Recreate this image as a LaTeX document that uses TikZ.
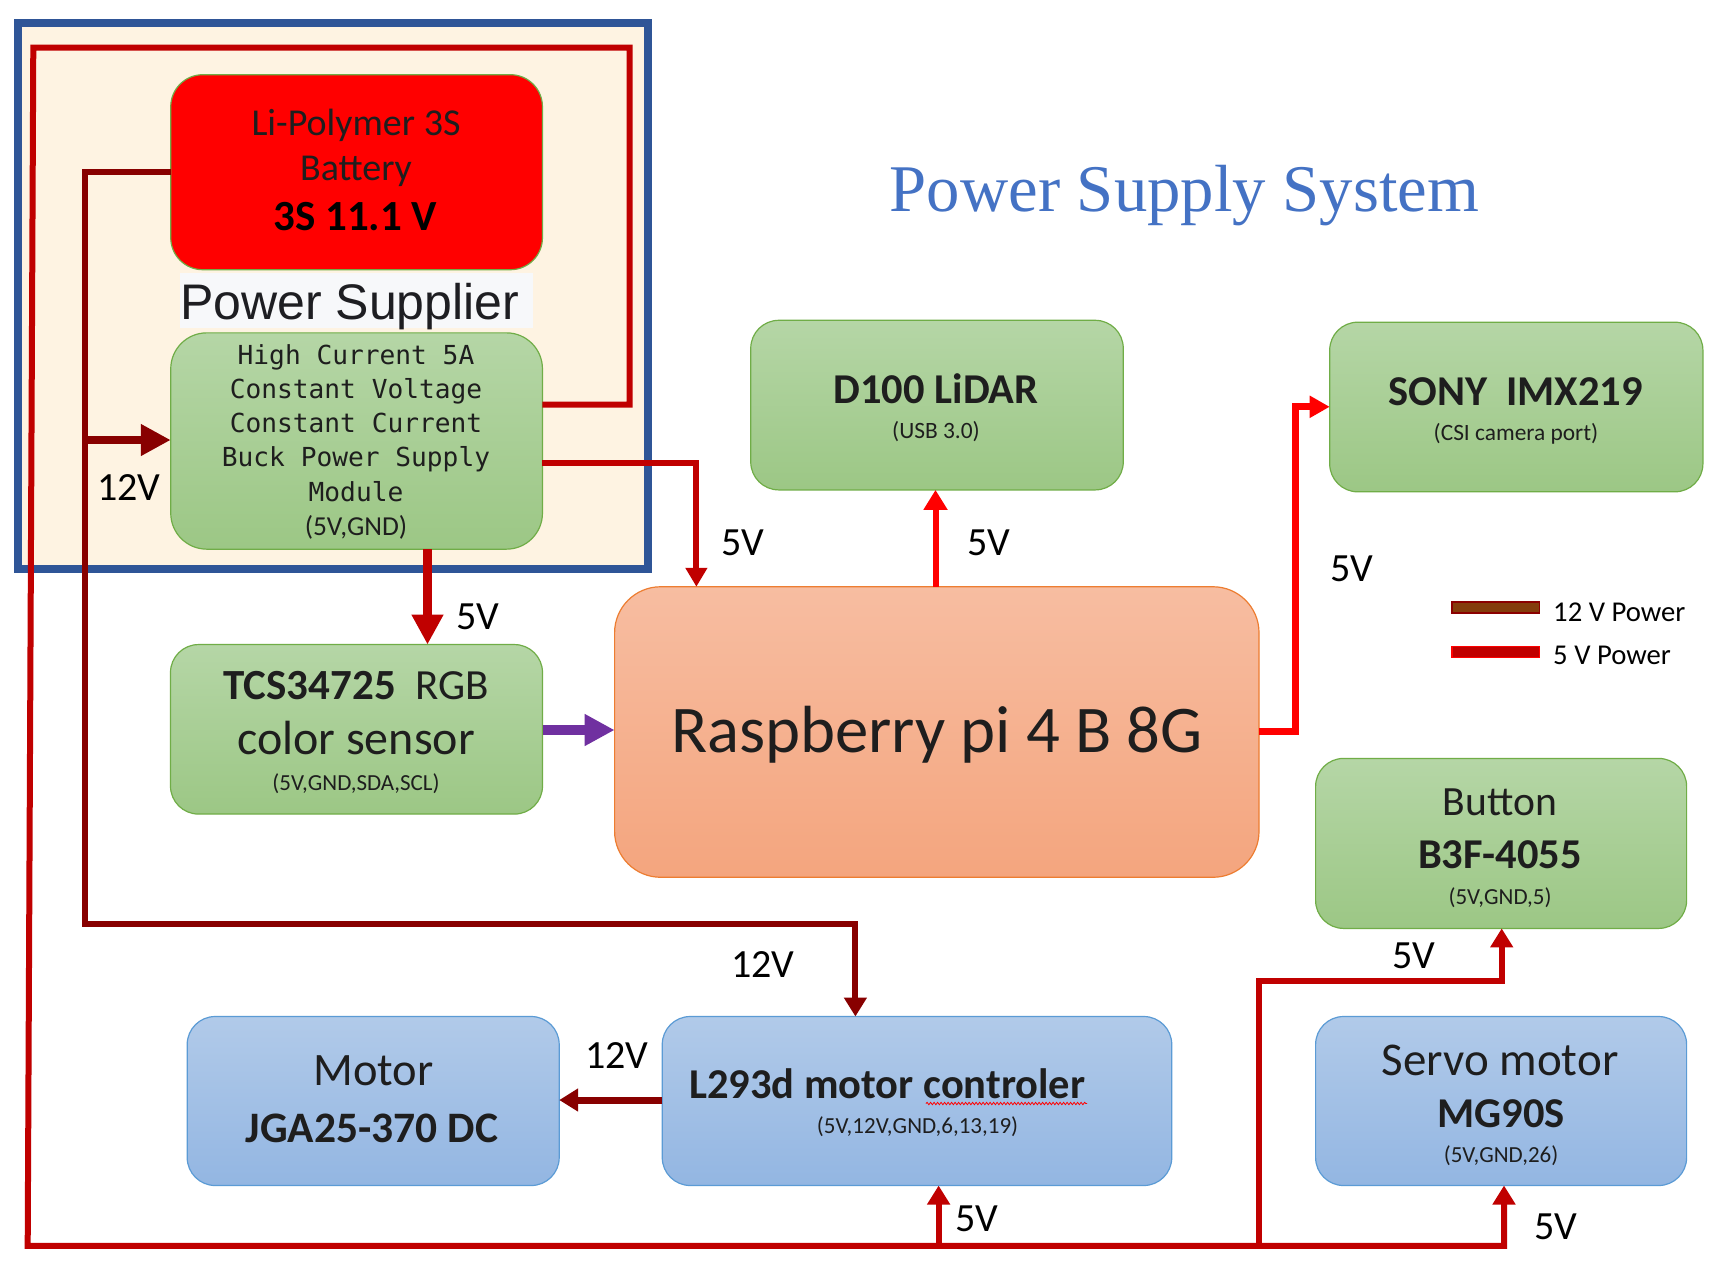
\documentclass[tikz,border=0pt]{standalone}
\usepackage{fontspec}
\setmainfont{Carlito}
\newfontfamily\monofnt{DejaVu Sans Mono}
\newfontfamily\arialfnt{Liberation Sans}
\newfontfamily\serifnt{Liberation Serif}
\usetikzlibrary{arrows.meta,decorations.pathmorphing}
\definecolor{cfive}{HTML}{C00000}
\definecolor{ctwelve}{HTML}{880000}
\definecolor{cbright}{HTML}{FF0000}
\definecolor{cpurple}{HTML}{7030A0}
\definecolor{frameblue}{HTML}{2F5597}
\definecolor{cream}{HTML}{FEF3E2}
\definecolor{gtop}{HTML}{B5D6A6}
\definecolor{gbot}{HTML}{9CC785}
\definecolor{gline}{HTML}{70AD47}
\definecolor{btop}{HTML}{B1CAE9}
\definecolor{bbot}{HTML}{93B6E2}
\definecolor{bline}{HTML}{5B9BD5}
\definecolor{otop}{HTML}{F7BDA1}
\definecolor{obot}{HTML}{F4A57E}
\definecolor{oline}{HTML}{ED7D31}
\definecolor{titleblue}{HTML}{4472C4}
\definecolor{txtdark}{HTML}{1E1E1E}
\newcommand\fs[1]{\fontsize{#1}{#1}\selectfont}
\begin{document}
\begin{tikzpicture}[x=1pt,y=-1pt,
  boxbase/.style={inner sep=0pt,outer sep=0pt,line width=1.2pt},
  greenbox/.style={boxbase,draw=gline,top color=gtop,bottom color=gbot},
  bluebox/.style={boxbase,draw=bline,top color=btop,bottom color=bbot},
  txt/.style={anchor=base,inner sep=0pt,outer sep=0pt,text=txtdark},
  lbl/.style={anchor=base,inner sep=0pt,outer sep=0pt,text=black,font=\fs{40}},
  fivewire/.style={draw=cfive,line width=6pt,line join=miter},
  twelvewire/.style={draw=ctwelve,line width=6pt,line join=miter},
  brightwire/.style={draw=cbright,line width=6pt,line join=miter},
  tipsmall/.style={-{Triangle[length=19pt,width=22pt]}},
  tipbig/.style={-{Triangle[length=30pt,width=30pt]}}]
\useasboundingbox (0,0) rectangle (1736,1262);
\fill[white] (0,0) rectangle (1736,1262);

% power supplier frame
\draw[frameblue,line width=8pt,fill=cream] (18.4,23.4) rectangle (648.3,569);

% boxes
\node[boxbase,draw=gline,fill=cbright,rounded corners=32pt,minimum width=371.7pt,minimum height=195pt] (bat) at (356.6,172.2) {};
\node[inner sep=0pt,outer sep=0pt,fill={rgb,255:red,247;green,248;blue,250},minimum width=352.8pt,minimum height=55.5pt] (psbg) at (356.1,300.6) {};
\node[greenbox,rounded corners=36pt,minimum width=371.7pt,minimum height=216.3pt] (buck) at (356.6,441) {};
\node[greenbox,rounded corners=28pt,minimum width=372pt,minimum height=169.5pt] (tcs) at (356.5,729.3) {};
\node[boxbase,draw=oline,top color=otop,bottom color=obot,rounded corners=46pt,minimum width=644.4pt,minimum height=290.5pt] (rpi) at (936.8,732) {};
\node[greenbox,rounded corners=28pt,minimum width=372.5pt,minimum height=169.6pt] (d100) at (937,405.1) {};
\node[greenbox,rounded corners=28pt,minimum width=373.2pt,minimum height=169.6pt] (sony) at (1516.3,407) {};
\node[greenbox,rounded corners=28pt,minimum width=371pt,minimum height=170pt] (btn) at (1501.1,843.4) {};
\node[bluebox,rounded corners=28pt,minimum width=371pt,minimum height=169pt] (servo) at (1501.1,1101) {};
\node[bluebox,rounded corners=28pt,minimum width=509.5pt,minimum height=169pt] (ltd) at (917,1101) {};
\node[bluebox,rounded corners=28pt,minimum width=372pt,minimum height=169pt] (motor) at (373.2,1101) {};

% coordinates
\coordinate (loopA) at (629.5,404.6);
\coordinate (loopB) at (629.5,47.7);
\coordinate (loopC) at (33.3,47.7);
\coordinate (loopD) at (27.7,1245.8);
\coordinate (loopE) at (1504,1245.8);
\coordinate (brL) at (938.6,1245.8);
\coordinate (brB) at (1259,1245.8);
\coordinate (brB2) at (1259,981);
\coordinate (brB3) at (1501.7,981);
\coordinate (drA) at (85.3,172);
\coordinate (drB) at (85.3,924.2);
\coordinate (drC) at (855.4,924.2);
\coordinate (drBranch) at (85.3,440);
\coordinate (bkA) at (696.4,463);
\coordinate (bkTcs) at (427.5,0);
\coordinate (rpD) at (935.5,0);
\coordinate (rsA) at (1295.6,731);
\coordinate (rsB) at (1295.6,406.8);
\coordinate (purY) at (0,730);
\coordinate (motY) at (0,1100);

% 5V loop
\draw[fivewire,tipsmall] (buck.east |- loopA) -- (loopA) -- (loopB) -- (loopC) -- (loopD) -- (loopE) -- (loopE |- servo.south);
\draw[fivewire,tipsmall] (brL) -- (brL |- ltd.south);
\draw[fivewire,tipsmall] (brB) -- (brB2) -- (brB3) -- (brB3 |- btn.south);
% 12V
\draw[twelvewire,tipsmall] (bat.west |- drA) -- (drA) -- (drB) -- (drC) -- (drC |- ltd.north);
\draw[twelvewire,line width=8pt,tipbig] (drBranch) -- (drBranch -| buck.west);
\draw[twelvewire,line width=7pt,tipsmall] (ltd.west |- motY) -- (motor.east |- motY);
% buck outputs
\draw[fivewire,line width=9pt,tipbig] (bkTcs |- buck.south) -- (bkTcs |- tcs.north);
\draw[fivewire,-{Triangle[length=19pt,width=21pt]}] (buck.east |- bkA) -- (bkA) -- (bkA |- rpi.north);
% raspberry outputs
\draw[brightwire,-{Triangle[length=20pt,width=23pt]}] (rpD |- rpi.north) -- (rpD |- d100.south);
\draw[brightwire,line width=7pt,-{Triangle[length=20pt,width=21pt]}] (rpi.east |- rsA) -- (rsA) -- (rsB) -- (sony.west |- rsB);
% purple signal
\draw[cpurple,line width=10pt,-{Triangle[length=30pt,width=30pt]}] (tcs.east |- purY) -- (rpi.west |- purY);

% texts in boxes
\node[txt,font=\fs{38}] (batA) at (356,135.9) {Li-Polymer 3S};
\node[txt,font=\fs{38}] (batB) at (356,180) {Battery};
\node[txt,font=\fs{43}\bfseries,text=black] (batC) at (355.4,230.8) {3S 11.1 V};
\node[txt,font=\arialfnt\fs{50},text={rgb,255:red,30;green,30;blue,34}] (pstxt) at (349.8,319.6) {Power Supplier};
\node[txt,font=\monofnt\fs{26.2}] (bkA1) at (356,364.3) {High Current 5A};
\node[txt,font=\monofnt\fs{26.2}] (bkA2) at (356,398) {Constant Voltage};
\node[txt,font=\monofnt\fs{26.2}] (bkA3) at (356,432.4) {Constant Current};
\node[txt,font=\monofnt\fs{26.2}] (bkA4) at (356,466) {Buck Power Supply};
\node[txt,font=\monofnt\fs{26.2}] (bkA5) at (356,501.3) {Module};
\node[txt,font=\fs{27.4}] (bkA6) at (356,535.8) {(5V,GND)};
\node[txt,font=\fs{43}] (tcsA) at (356,699.3) {\textbf{TCS34725}~ RGB};
\node[txt,font=\fs{48}] (tcsB) at (356,754) {color sensor};
\node[txt,font=\fs{23}] (tcsC) at (356,790.7) {(5V,GND,SDA,SCL)};
\node[txt,font=\fs{66.7}] (rpiT) at (936.7,752) {Raspberry pi 4 B 8G};
\node[txt,font=\fs{42.5}\bfseries] (d100A) at (936,403.7) {D100 LiDAR};
\node[txt,font=\fs{23.4}] (d100B) at (936,438) {(USB 3.0)};
\node[txt,font=\fs{42.5}\bfseries] (sonyA) at (1515.6,405.7) {SONY~ IMX219};
\node[txt,font=\fs{23.4}] (sonyB) at (1516,440) {(CSI camera port)};
\node[txt,font=\fs{41.6}] (btnA) at (1500,815) {Button};
\node[txt,font=\fs{42.5}\bfseries] (btnB) at (1500,868) {B3F-4055};
\node[txt,font=\fs{23}] (btnC) at (1500,904) {(5V,GND,5)};
\node[txt,font=\fs{47}] (servoA) at (1500,1075) {Servo motor};
\node[txt,font=\fs{42.5}\bfseries] (servoB) at (1501,1127.6) {MG90S};
\node[txt,font=\fs{23}] (servoC) at (1501,1162.7) {(5V,GND,26)};
\node[txt,font=\fs{46.5}] (motorA) at (373.5,1085) {Motor};
\node[txt,font=\fs{43.5}\bfseries] (motorB) at (372,1142.4) {JGA25-370 DC};
\node[txt,font=\fs{42.5}\bfseries] (ltdA) at (887.2,1098.3) {L293d motor controler};
\node[txt,font=\fs{23}] (ltdB) at (917.5,1133.3) {(5V,12V,GND,6,13,19)};
\draw[red,line width=0.8pt,decorate,decoration={snake,amplitude=1.2pt,segment length=3.5pt}] (926,1103.5) -- (1087,1103.5);

% title
\node[anchor=base,inner sep=0pt,font=\serifnt\fs{66.7},text=titleblue] (title) at (1184.5,211.2) {Power Supply System};

% wire labels
\node[lbl] (l12a) at (129,500) {12V};
\node[lbl] (l5tcs) at (477.5,629) {5V};
\node[lbl] (l5rpi) at (743,555) {5V};
\node[lbl] (l5d100) at (988.5,555) {5V};
\node[lbl] (l5sony) at (1352,581.7) {5V};
\node[lbl] (l5btn) at (1414,968) {5V};
\node[lbl] (l12b) at (763,977.8) {12V};
\node[lbl] (l12c) at (617,1068) {12V};
\node[lbl] (l5ltd) at (977,1231) {5V};
\node[lbl] (l5servo) at (1556,1239.5) {5V};

% legend
\draw[draw={rgb,255:red,139;green,0;blue,0},fill={rgb,255:red,132;green,60;blue,12},line width=1.5pt] (1452,602) rectangle (1539.4,612.8);
\draw[draw=cbright,fill=cfive,line width=1.5pt] (1452,646.7) rectangle (1539.4,657.4);
\node[anchor=base west,inner sep=0pt,font=\fs{28.7}] (leg12) at (1553,621) {12 V Power};
\node[anchor=base west,inner sep=0pt,font=\fs{28.7}] (leg5) at (1553,664.2) {5 V Power};
\end{tikzpicture}
\end{document}
